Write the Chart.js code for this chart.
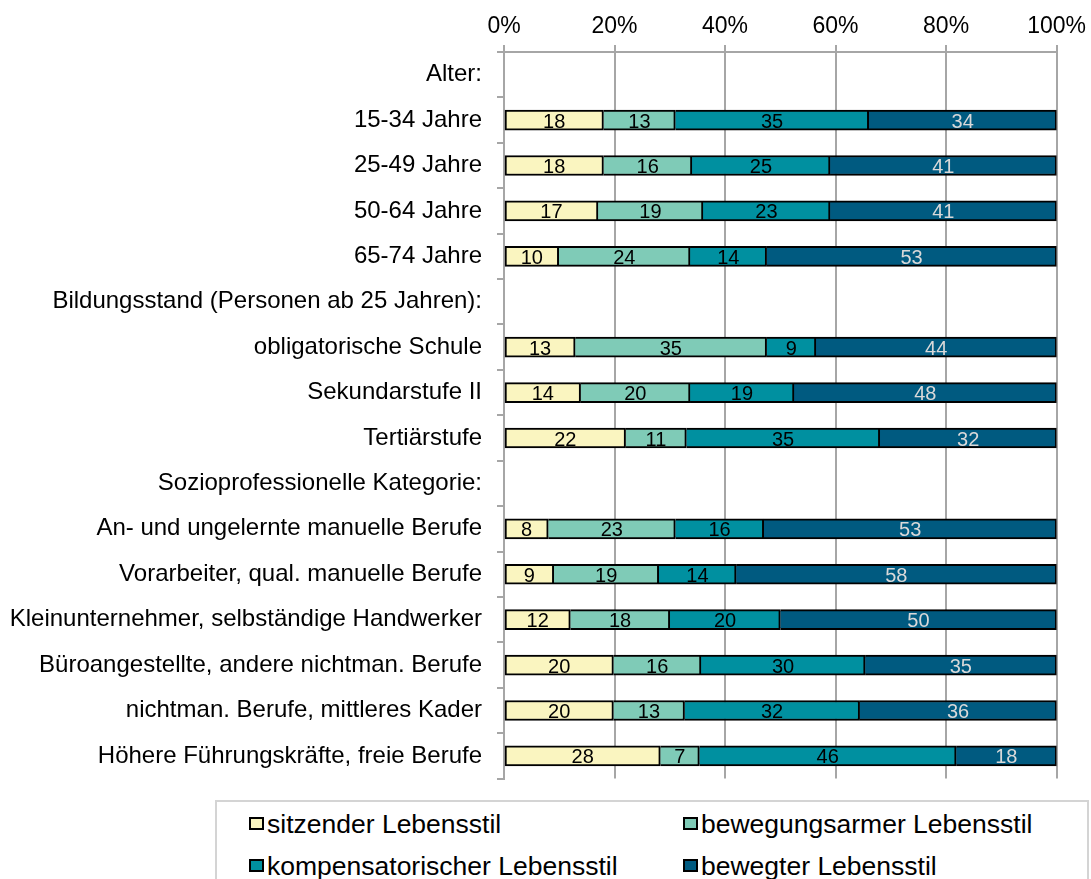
<!DOCTYPE html>
<html>
<head>
<meta charset="utf-8">
<script src="https://cdn.jsdelivr.net/npm/chart.js@4.4.1/dist/chart.umd.min.js"></script>
<style>
  html, body { margin: 0; padding: 0; background: #fff; overflow: hidden; }
  body { width: 1091px; height: 879px; position: relative; font-family: "Liberation Sans", Arial, sans-serif; }
  #c { position: absolute; left: 0; top: 0; }
  #legend { position: absolute; left: 215px; top: 800px; width: 874px; height: 120px; border: 2px solid #d4d4d4; box-sizing: border-box; background: #fff; }
  .item { position: absolute; font-size: 26.5px; color: #000; line-height: 30px; white-space: nowrap; }
  .box { position: absolute; width: 11px; height: 9px; border: 2px solid #000; }
</style>
</head>
<body>
<canvas id="c" width="1091" height="808"></canvas>
<div id="legend"></div>
<script>
const categories = [
  "Alter:",
  "15-34 Jahre",
  "25-49 Jahre",
  "50-64 Jahre",
  "65-74 Jahre",
  "Bildungsstand (Personen ab 25 Jahren):",
  "obligatorische Schule",
  "Sekundarstufe II",
  "Tertiärstufe",
  "Sozioprofessionelle Kategorie:",
  "An- und ungelernte manuelle Berufe",
  "Vorarbeiter, qual. manuelle Berufe",
  "Kleinunternehmer, selbständige Handwerker",
  "Büroangestellte, andere nichtman. Berufe",
  "nichtman. Berufe, mittleres Kader",
  "Höhere Führungskräfte, freie Berufe"
];
const seriesNames = ["sitzender Lebensstil", "bewegungsarmer Lebensstil", "kompensatorischer Lebensstil", "bewegter Lebensstil"];
const sitzend        = [null, 18, 18, 17, 10, null, 13, 14, 22, null,  8,  9, 12, 20, 20, 28];
const bewegungsarm   = [null, 13, 16, 19, 24, null, 35, 20, 11, null, 23, 19, 18, 16, 13,  7];
const kompensatorisch= [null, 35, 25, 23, 14, null,  9, 19, 35, null, 16, 14, 20, 30, 32, 46];
const bewegt         = [null, 34, 41, 41, 53, null, 44, 48, 32, null, 53, 58, 50, 35, 36, 18];
const xTicks = [0, 20, 40, 60, 80, 100];

const colors = ["#FAF5C0", "#7FCBB7", "#0090A0", "#005A80"];
const labelColors = ["#000", "#000", "#000", "#D9D9D9"];
const raw = [sitzend, bewegungsarm, kompensatorisch, bewegt];

// 100% stacking: shares of each row's total
const totals = categories.map((_, i) => raw.reduce((s, arr) => s + (arr[i] || 0), 0));
const shares = raw.map(arr => arr.map((v, i) => v == null ? null : v / totals[i] * 100));

const FONT = "'Liberation Sans', Arial, sans-serif";

const valueLabels = {
  id: 'valueLabels',
  afterDatasetsDraw(chart) {
    const ctx = chart.ctx;
    ctx.save();
    ctx.font = "20px " + FONT;
    ctx.textAlign = 'center';
    ctx.textBaseline = 'middle';
    chart.data.datasets.forEach((ds, di) => {
      const meta = chart.getDatasetMeta(di);
      meta.data.forEach((el, i) => {
        const v = raw[di][i];
        if (v == null) return;
        const p = el.getProps(['x', 'y', 'base'], true);
        ctx.fillStyle = labelColors[di];
        ctx.fillText(String(v), (p.x + p.base) / 2, p.y + 2);
      });
    });
    ctx.restore();
  }
};

const chart = new Chart(document.getElementById('c'), {
  type: 'bar',
  data: {
    labels: categories,
    datasets: shares.map((d, di) => ({
      label: seriesNames[di],
      data: d,
      backgroundColor: colors[di],
      borderColor: '#000',
      borderWidth: 2,
      borderSkipped: di === 0 ? false : 'start',
      barThickness: 20
    }))
  },
  options: {
    indexAxis: 'y',
    responsive: false,
    animation: false,
    layout: { padding: { left: 0, right: 32, top: 0, bottom: 12 } },
    plugins: { legend: { display: false }, tooltip: { enabled: false } },
    scales: {
      x: {
        position: 'top',
        stacked: true,
        min: 0, max: 100,
        afterBuildTicks(scale) { scale.ticks = xTicks.map(v => ({ value: v })); },
        afterFit(scale) { scale.height = 52; },
        ticks: { callback: v => v + '%', color: '#000', font: { family: FONT, size: 23 }, padding: 5, maxRotation: 0 },
        grid: { color: '#A6A6A6', lineWidth: 2, tickLength: 7 },
        border: { color: '#A6A6A6', width: 2 }
      },
      y: {
        stacked: true,
        afterFit(scale) { scale.width = 504; },
        ticks: { color: '#000', font: { family: FONT, size: 24 }, padding: 15, autoSkip: false },
        grid: { drawOnChartArea: false, drawTicks: true, tickLength: 7, color: '#A6A6A6', lineWidth: 2, offset: true },
        border: { color: '#A6A6A6', width: 2 }
      }
    }
  },
  plugins: [valueLabels]
});

// HTML legend built from the datasets
const legend = document.getElementById('legend');
const pos = [[249 - 215, 7], [683 - 215, 7], [249 - 215, 49], [683 - 215, 49]];
chart.data.datasets.forEach((ds, i) => {
  const item = document.createElement('div');
  item.className = 'item';
  item.style.left = (pos[i][0] - 2) + 'px';
  item.style.top = pos[i][1] + 'px';
  const box = document.createElement('span');
  box.className = 'box';
  box.style.background = ds.backgroundColor;
  box.style.left = '0px';
  box.style.top = '8px';
  const txt = document.createElement('span');
  txt.textContent = ds.label;
  txt.style.marginLeft = '18px';
  item.appendChild(box);
  item.appendChild(txt);
  legend.appendChild(item);
});
</script>
</body>
</html>
